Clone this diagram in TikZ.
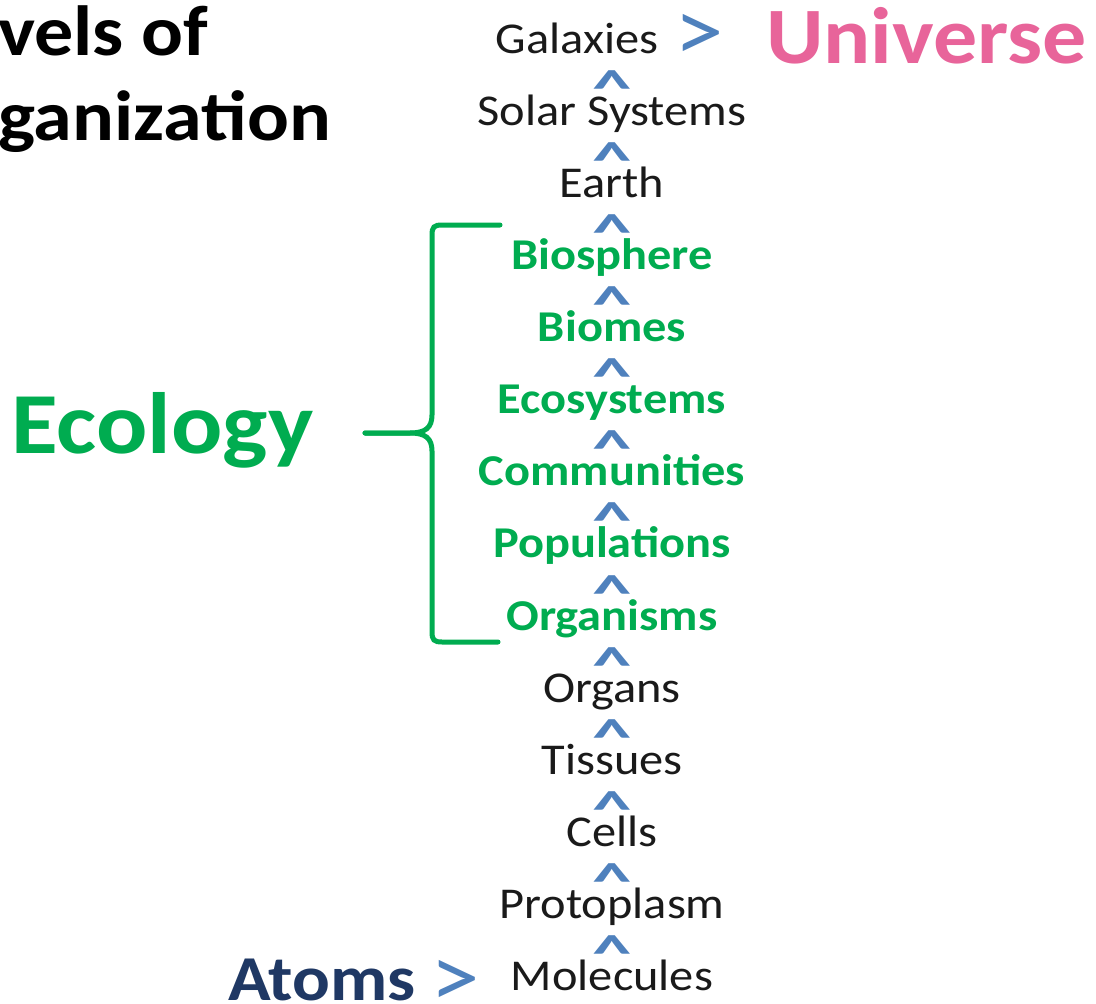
\documentclass[tikz,border=0pt]{standalone}
\usepackage{fontspec}
\setmainfont{Carlito}[FakeStretch=1.1]
\usetikzlibrary{calc}
\definecolor{LevelGreen}{HTML}{00AC50}
\definecolor{CaretBlue}{HTML}{4F81BD}
\definecolor{UniversePink}{HTML}{E8649A}
\definecolor{AtomNavy}{HTML}{1F3864}
\definecolor{LevelBlack}{HTML}{1A1A1A}

\newcommand{\upcaret}{\scalebox{1.2}[0.85]{\textasciicircum}}

\tikzset{
  level/.style={text=LevelBlack, font=\fontsize{44}{48}\selectfont, anchor=base, inner sep=0pt},
  ecolevel/.style={level, text=LevelGreen, font=\fontsize{44}{48}\selectfont\bfseries},
  caret/.style={text=CaretBlue, font=\fontsize{60}{64}\selectfont\bfseries, anchor=base, inner sep=0pt},
  gtsign/.style={text=CaretBlue, font=\fontsize{90}{94}\selectfont, anchor=base, inner sep=0pt},
  headline/.style={text=black, font=\fontsize{71}{76}\selectfont\bfseries, anchor=base west, inner sep=0pt},
  brace/.style={draw=LevelGreen, line width=5pt, line cap=round}
}

\begin{document}
\begin{tikzpicture}[x=1pt, y=-1pt]
  \useasboundingbox (0,0) rectangle (1096,1004);

  % title, cut at the left edge
  \node[headline] (ttlA) at (-2,55) {vels of};
  \node[headline] (ttlB) at (-2,140) {ganization};

  % the ladder of levels
  \node[level] (gal) at (577,53) {Galaxies};
  \node[level] (sol) at (612,125) {Solar Systems};
  \node[level] (earth) at (612,197) {Earth};
  \node[ecolevel] (bios) at (612,269) {Biosphere};
  \node[ecolevel] (biom) at (612,341) {Biomes};
  \node[ecolevel] (ecos) at (612,413.5) {Ecosystems};
  \node[ecolevel] (comm) at (612,485.5) {Communities};
  \node[ecolevel] (pops) at (612,557.5) {Populations};
  \node[ecolevel] (orgm) at (612,630) {Organisms};
  \node[level] (orgn) at (612,702) {Organs};
  \node[level] (tiss) at (612,774) {Tissues};
  \node[level] (cell) at (612,846) {Cells};
  \node[level] (proto) at (612,918) {Protoplasm};
  \node[level] (mole) at (612,990) {Molecules};

  % carets between the levels
  \node[caret] (c1) at ($(sol.base)+(0,-20)$) {\upcaret};
  \node[caret] (c2) at ($(earth.base)+(0,-20)$) {\upcaret};
  \node[caret] (c3) at ($(bios.base)+(0,-20)$) {\upcaret};
  \node[caret] (c4) at ($(biom.base)+(0,-20)$) {\upcaret};
  \node[caret] (c5) at ($(ecos.base)+(0,-20)$) {\upcaret};
  \node[caret] (c6) at ($(comm.base)+(0,-20)$) {\upcaret};
  \node[caret] (c7) at ($(pops.base)+(0,-20)$) {\upcaret};
  \node[caret] (c8) at ($(orgm.base)+(0,-20)$) {\upcaret};
  \node[caret] (c9) at ($(orgn.base)+(0,-20)$) {\upcaret};
  \node[caret] (c10) at ($(tiss.base)+(0,-20)$) {\upcaret};
  \node[caret] (c11) at ($(cell.base)+(0,-20)$) {\upcaret};
  \node[caret] (c12) at ($(proto.base)+(0,-20)$) {\upcaret};
  \node[caret] (c13) at ($(mole.base)+(0,-20)$) {\upcaret};

  % the two ends
  \node[gtsign] (gtTop) at (699,61) {>};
  \node[text=UniversePink, font=\fontsize{80}{84}\selectfont\bfseries,
    anchor=base west, inner sep=0pt] (univ) at (766,63) {Universe};
  \node[text=AtomNavy, font=\fontsize{64}{68}\selectfont\bfseries,
    anchor=base west, inner sep=0pt] (atoms) at (228,1000) {Atoms};
  \node[gtsign] (gtBot) at (455,1007) {>};

  % ecology and its bracket
  \node[text=LevelGreen, font=\fontsize{87}{92}\selectfont\bfseries,
    anchor=base west, inner sep=0pt] (eco) at (11,453) {Ecology};
  \coordinate (brTop) at (500,225);
  \coordinate (brTip) at (365,433);
  \coordinate (brBot) at (498,642);
  \draw[brace] (brTop) -- (442,225) .. controls (434,225) and (432,227) .. (432,235)
    -- (432,415) .. controls (432,428) and (425,433) .. (410,433) -- (brTip);
  \draw[brace] (brTip) -- (410,433) .. controls (425,433) and (432,438) .. (432,451)
    -- (432,632) .. controls (432,640) and (434,642) .. (442,642) -- (brBot);
\end{tikzpicture}
\end{document}
